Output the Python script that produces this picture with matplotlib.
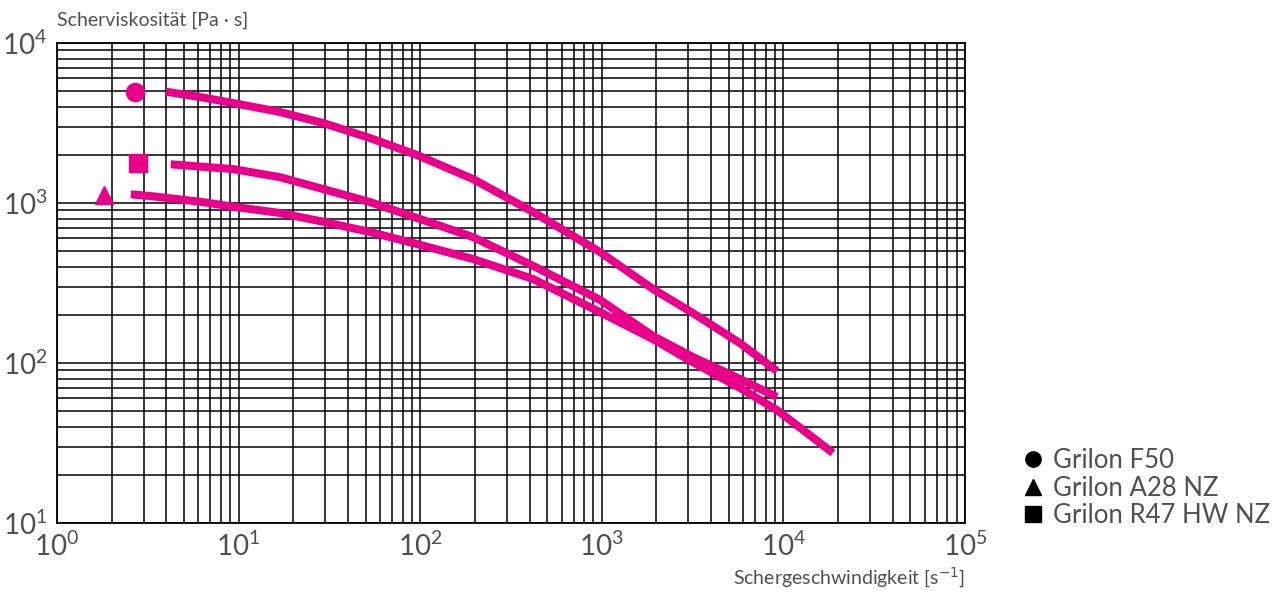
import math
import matplotlib
matplotlib.use("Agg")
import matplotlib.pyplot as plt
from matplotlib.lines import Line2D
from matplotlib.ticker import LogLocator, FixedLocator, FuncFormatter, NullFormatter

plt.rcParams["font.family"] = ["Lato", "DejaVu Sans"]

MAGENTA = "#e8008a"
TXT = "#505050"

# Grilon F50
f50_x = [3.98, 6.13, 9.31, 16.9, 29.2, 52.9, 96, 195, 418, 977, 1914, 3177, 5768, 9220]
f50_y = [4963, 4597, 4217, 3704, 3162, 2548, 1995, 1413, 879, 494, 290, 205, 133, 89]
f50_pt = (2.69, 4940)

# Grilon R47 HW NZ
r47_x = [4.23, 6.13, 9.31, 16.9, 29.2, 52.9, 96, 195, 418, 977, 1914, 3177, 5768, 9220]
r47_y = [1746, 1690, 1630, 1450, 1223, 1014, 806, 613, 405, 248, 147.5, 109, 79.4, 61.3]
r47_pt = (2.79, 1778)

# Grilon A28 NZ
a28_x = [2.55, 3.25, 6.13, 9.31, 16.9, 29.2, 52.9, 96, 195, 418, 977, 1914, 3177, 5768, 9220, 18750]
a28_y = [1133, 1106, 1019, 948, 866, 764, 659, 554, 447, 335, 208, 141, 101, 69.8, 50.8, 27.4]
a28_pt = (1.81, 1122)

legend_labels = ["Grilon F50", "Grilon A28 NZ", "Grilon R47 HW NZ"]
x_ticks = [1e0, 1e1, 1e2, 1e3, 1e4, 1e5]
y_ticks = [1e1, 1e2, 1e3, 1e4]

fig = plt.figure(figsize=(12.84, 5.92), dpi=100)
ax = fig.add_axes([57 / 1284, 1 - 523 / 592, 908 / 1284, 480 / 592])
ax.set_xscale("log")
ax.set_yscale("log")
ax.set_xlim(1, 1e5)
ax.set_ylim(10, 1e4)

ax.xaxis.set_major_locator(FixedLocator(x_ticks))
ax.yaxis.set_major_locator(FixedLocator(y_ticks))
ax.xaxis.set_minor_locator(LogLocator(base=10, subs=range(2, 10)))
ax.yaxis.set_minor_locator(LogLocator(base=10, subs=range(2, 10)))
ax.grid(which="both", color="black", lw=1.1)
ax.set_axisbelow(True)
for s in ax.spines.values():
    s.set_color("black")
    s.set_linewidth(1.3)

fmt = FuncFormatter(lambda v, p: r"$\mathregular{10^{%d}}$" % round(math.log10(v)))
ax.xaxis.set_major_formatter(fmt)
ax.yaxis.set_major_formatter(fmt)
ax.xaxis.set_minor_formatter(NullFormatter())
ax.yaxis.set_minor_formatter(NullFormatter())
ax.tick_params(which="both", length=0)
ax.tick_params(axis="x", labelsize=20, colors=TXT, pad=6)
ax.tick_params(axis="y", labelsize=20, colors=TXT, pad=7)

for xs, ys, pt, mk in [(f50_x, f50_y, f50_pt, "o"),
                       (r47_x, r47_y, r47_pt, "s"),
                       (a28_x, a28_y, a28_pt, "^")]:
    ax.plot(xs, ys, color=MAGENTA, lw=5.8, solid_capstyle="butt",
            solid_joinstyle="round", zorder=3)
    ax.plot([pt[0]], [pt[1]], marker=mk, color=MAGENTA, ms=13, ls="none",
            zorder=3, clip_on=False)

fig.text(57 / 1284, 1 - 20 / 592, "Scherviskosität [Pa · s]", fontsize=14,
         color=TXT, ha="left", va="center")
fig.text(965 / 1284, 1 - 578 / 592, r"Schergeschwindigkeit [s$^{-1}$]",
         fontsize=14, color=TXT, ha="right", va="center")

handles = [Line2D([], [], marker=m, color="black", ls="none", ms=11)
           for m in ["o", "^", "s"]]
leg = fig.legend(handles, legend_labels, loc="center left",
                 bbox_to_anchor=(1012 / 1284, 1 - 488 / 592), frameon=False,
                 fontsize=18.5, handlelength=0.8, handletextpad=0.4,
                 labelspacing=0.1, borderaxespad=0)
for t in leg.get_texts():
    t.set_color(TXT)

fig.savefig("out.png", dpi=100)
